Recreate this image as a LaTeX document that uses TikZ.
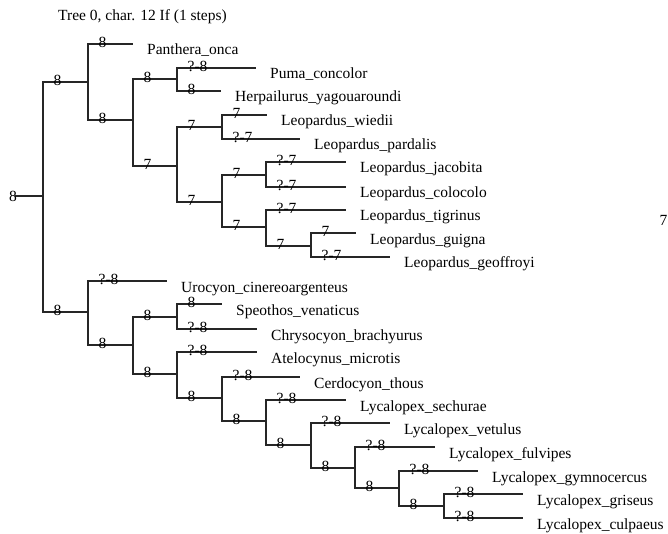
\documentclass[tikz,border=0pt]{standalone}
\usepackage{fontspec}
\setmainfont{Liberation Serif}
\begin{document}
\begin{tikzpicture}[
    x=1pt, y=-1pt,
    every node/.style={font=\fontsize{15.5}{18}\selectfont},
    branch/.style={draw=black!85, line width=1.3pt},
    lbl/.style={anchor=west, inner sep=0pt, xshift=10pt, yshift=2pt},
    taxon/.style={anchor=base west, inner sep=0pt, xshift=14pt, yshift=-11pt}
  ]
    \useasboundingbox (0,0) rectangle (668,534);

    % title
    \node[anchor=west, inner sep=0pt] (T) at (58,17) {Tree 0, char. 12 If (1 steps)};

    % internal nodes
    \coordinate (base) at (15,196);
    \coordinate (root) at (43,196);
    \coordinate (felid) at (88,82);
    \coordinate (fel2) at (133,120);
    \coordinate (puc) at (177,79);
    \coordinate (leo) at (177,166);
    \coordinate (wp) at (222,127);
    \coordinate (leo2) at (222,202);
    \coordinate (jc) at (266,175);
    \coordinate (tg) at (266,227);
    \coordinate (gg) at (311,246);
    \coordinate (canid) at (88,312);
    \coordinate (can2) at (133,345);
    \coordinate (sc) at (177,317);
    \coordinate (can3) at (177,374);
    \coordinate (cer) at (222,398);
    \coordinate (ly1) at (266,421);
    \coordinate (ly2) at (311,445);
    \coordinate (ly3) at (355,468);
    \coordinate (ly4) at (399,488);
    \coordinate (ly5) at (444,506);

    % tips
    \coordinate (pan) at (133,44);
    \coordinate (puma) at (256,68);
    \coordinate (herp) at (221,91);
    \coordinate (wied) at (267,115);
    \coordinate (pard) at (300,139);
    \coordinate (jaco) at (346,162);
    \coordinate (colo) at (346,187);
    \coordinate (tigr) at (346,210);
    \coordinate (guig) at (356,233);
    \coordinate (geof) at (390,257);
    \coordinate (uro) at (167,281);
    \coordinate (speo) at (222,304);
    \coordinate (chry) at (257,329);
    \coordinate (atel) at (257,352);
    \coordinate (cerd) at (300,377);
    \coordinate (sech) at (346,400);
    \coordinate (vetu) at (390,423);
    \coordinate (fulv) at (435,447);
    \coordinate (gymn) at (478,471);
    \coordinate (gris) at (523,494);
    \coordinate (culp) at (523,518);

    % root
    \draw[branch] (base) -- (root);
    \node[inner sep=0pt] (rootlbl) at (13,196) {8};
    \draw[branch] (root) |- node[lbl] {8} (felid);
    \draw[branch] (root) |- node[lbl] {8} (canid);

    % felids
    \draw[branch] (felid) |- node[lbl] {8} (pan);
    \draw[branch] (felid) |- node[lbl] {8} (fel2);
    \draw[branch] (fel2) |- node[lbl] {8} (puc);
    \draw[branch] (puc) |- node[lbl] {?-8} (puma);
    \draw[branch] (puc) |- node[lbl] {8} (herp);
    \draw[branch] (fel2) |- node[lbl] {7} (leo);
    \draw[branch] (leo) |- node[lbl] {7} (wp);
    \draw[branch] (wp) |- node[lbl] {7} (wied);
    \draw[branch] (wp) |- node[lbl] {?-7} (pard);
    \draw[branch] (leo) |- node[lbl] {7} (leo2);
    \draw[branch] (leo2) |- node[lbl] {7} (jc);
    \draw[branch] (jc) |- node[lbl] {?-7} (jaco);
    \draw[branch] (jc) |- node[lbl] {?-7} (colo);
    \draw[branch] (leo2) |- node[lbl] {7} (tg);
    \draw[branch] (tg) |- node[lbl] {?-7} (tigr);
    \draw[branch] (tg) |- node[lbl] {7} (gg);
    \draw[branch] (gg) |- node[lbl] {7} (guig);
    \draw[branch] (gg) |- node[lbl] {?-7} (geof);

    % canids
    \draw[branch] (canid) |- node[lbl] {?-8} (uro);
    \draw[branch] (canid) |- node[lbl] {8} (can2);
    \draw[branch] (can2) |- node[lbl] {8} (sc);
    \draw[branch] (sc) |- node[lbl] {8} (speo);
    \draw[branch] (sc) |- node[lbl] {?-8} (chry);
    \draw[branch] (can2) |- node[lbl] {8} (can3);
    \draw[branch] (can3) |- node[lbl] {?-8} (atel);
    \draw[branch] (can3) |- node[lbl] {8} (cer);
    \draw[branch] (cer) |- node[lbl] {?-8} (cerd);
    \draw[branch] (cer) |- node[lbl] {8} (ly1);
    \draw[branch] (ly1) |- node[lbl] {?-8} (sech);
    \draw[branch] (ly1) |- node[lbl] {8} (ly2);
    \draw[branch] (ly2) |- node[lbl] {?-8} (vetu);
    \draw[branch] (ly2) |- node[lbl] {8} (ly3);
    \draw[branch] (ly3) |- node[lbl] {?-8} (fulv);
    \draw[branch] (ly3) |- node[lbl] {8} (ly4);
    \draw[branch] (ly4) |- node[lbl] {?-8} (gymn);
    \draw[branch] (ly4) |- node[lbl] {8} (ly5);
    \draw[branch] (ly5) |- node[lbl] {?-8} (gris);
    \draw[branch] (ly5) |- node[lbl] {?-8} (culp);

    % taxon names
    \node[taxon] (panL) at (pan) {Panthera\_onca};
    \node[taxon] (pumaL) at (puma) {Puma\_concolor};
    \node[taxon] (herpL) at (herp) {Herpailurus\_yagouaroundi};
    \node[taxon] (wiedL) at (wied) {Leopardus\_wiedii};
    \node[taxon] (pardL) at (pard) {Leopardus\_pardalis};
    \node[taxon] (jacoL) at (jaco) {Leopardus\_jacobita};
    \node[taxon] (coloL) at (colo) {Leopardus\_colocolo};
    \node[taxon] (tigrL) at (tigr) {Leopardus\_tigrinus};
    \node[taxon] (guigL) at (guig) {Leopardus\_guigna};
    \node[taxon] (geofL) at (geof) {Leopardus\_geoffroyi};
    \node[taxon] (uroL) at (uro) {Urocyon\_cinereoargenteus};
    \node[taxon] (speoL) at (speo) {Speothos\_venaticus};
    \node[taxon] (chryL) at (chry) {Chrysocyon\_brachyurus};
    \node[taxon] (atelL) at (atel) {Atelocynus\_microtis};
    \node[taxon] (cerdL) at (cerd) {Cerdocyon\_thous};
    \node[taxon] (sechL) at (sech) {Lycalopex\_sechurae};
    \node[taxon] (vetuL) at (vetu) {Lycalopex\_vetulus};
    \node[taxon] (fulvL) at (fulv) {Lycalopex\_fulvipes};
    \node[taxon] (gymnL) at (gymn) {Lycalopex\_gymnocercus};
    \node[taxon] (grisL) at (gris) {Lycalopex\_griseus};
    \node[taxon] (culpL) at (culp) {Lycalopex\_culpaeus};

    % stray mark at right edge
    \node[anchor=east, inner sep=0pt] (edge) at (667.5,220) {7};
  \end{tikzpicture}
\end{document}
